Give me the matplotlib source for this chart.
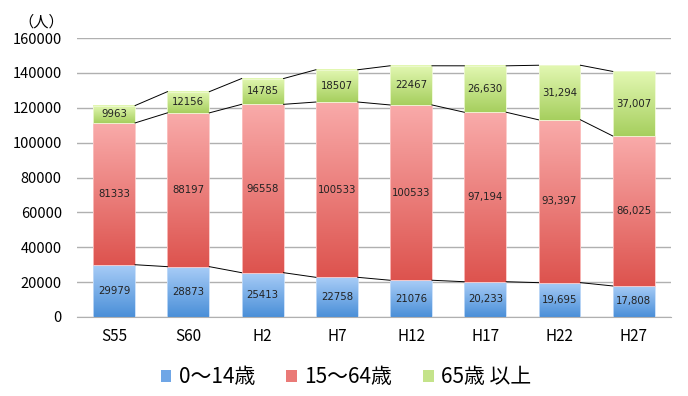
import matplotlib
matplotlib.use("Agg")
import matplotlib.pyplot as plt
import numpy as np
from matplotlib.colors import LinearSegmentedColormap
from matplotlib.patches import Patch, Rectangle

plt.rcParams['font.family'] = ['Noto Sans CJK JP', 'DejaVu Sans']

categories = ["S55", "S60", "H2", "H7", "H12", "H17", "H22", "H27"]
young = [29979, 28873, 25413, 22758, 21076, 20233, 19695, 17808]
working = [81333, 88197, 96558, 100533, 100533, 97194, 93397, 86025]
elderly = [9963, 12156, 14785, 18507, 22467, 26630, 31294, 37007]
young_labels = ["29979", "28873", "25413", "22758", "21076", "20,233", "19,695", "17,808"]
working_labels = ["81333", "88197", "96558", "100533", "100533", "97,194", "93,397", "86,025"]
elderly_labels = ["9963", "12156", "14785", "18507", "22467", "26,630", "31,294", "37,007"]
series_names = ["0〜14歳", "15〜64歳", "65歳 以上"]

fig = plt.figure(figsize=(6.88, 3.96), dpi=100)
ax = fig.add_axes([0.112, 0.1995, 0.863, 0.7045])

x = np.arange(len(categories))
width = 0.565
ax.set_xlim(-0.5, len(categories) - 0.5)
ax.set_ylim(0, 160000)

grads = [
    ("#4a8fd8", "#a9cdf7"),  # blue: bottom, top
    ("#dd534e", "#f9abaa"),  # red
    ("#a6cf5e", "#e3f8b3"),  # green
]
edge_cols = ["#c4dcf8", "#fbc4c3", "#eef9d2"]
mid_cols = ["#6fa6e6", "#ea7a77", "#c4e38a"]

series = [young, working, elderly]
labels = [young_labels, working_labels, elderly_labels]
bottoms = np.zeros(len(categories))
tops_all = []
for si, vals in enumerate(series):
    vals = np.array(vals, dtype=float)
    cmap = LinearSegmentedColormap.from_list("g%d" % si, list(grads[si]))
    grad = np.linspace(0, 1, 256).reshape(-1, 1)
    for i in range(len(categories)):
        b = bottoms[i]
        t = b + vals[i]
        ax.imshow(grad, cmap=cmap, origin="lower", aspect="auto",
                  extent=(x[i] - width / 2, x[i] + width / 2, b, t), zorder=2)
        ax.add_patch(Rectangle((x[i] - width / 2, b), width, vals[i], fill=False,
                               edgecolor=edge_cols[si], lw=0.6, zorder=2.5))
        ax.text(x[i], (b + t) / 2, labels[si][i], ha="center", va="center",
                fontsize=7.3, color="#222222", zorder=4, family="DejaVu Sans")
    bottoms = bottoms + vals
    tops_all.append(bottoms.copy())

# connecting lines
for tops in tops_all:
    for i in range(len(categories) - 1):
        ax.plot([x[i] + width / 2, x[i + 1] - width / 2], [tops[i], tops[i + 1]],
                color="black", lw=0.7, zorder=3)

ax.set_xlim(-0.5, len(categories) - 0.5)
ax.set_ylim(0, 160000)
ax.set_yticks(np.arange(0, 160001, 20000))
ax.set_yticklabels([str(v) for v in range(0, 160001, 20000)], fontsize=10.5)
ax.set_xticks(x)
ax.set_xticklabels(categories, fontsize=11)
ax.tick_params(length=0)
ax.tick_params(axis="y", pad=11)
ax.tick_params(axis="x", pad=8)
ax.yaxis.grid(True, color="#b0b0b0", lw=1)
ax.set_axisbelow(True)
for s in ["left", "right", "top"]:
    ax.spines[s].set_visible(False)
ax.spines["bottom"].set_color("#b0b0b0")

fig.text(0.06, 0.945, "（人）", fontsize=11, ha="center", va="center")

handles = [Patch(facecolor=c, edgecolor="none") for c in mid_cols]
fig.legend(handles, series_names, loc="center", bbox_to_anchor=(0.503, 0.048),
           ncol=3, frameon=False, fontsize=15, handlelength=0.5, handleheight=0.5,
           handletextpad=0.35, columnspacing=1.5)

fig.savefig("out.png", dpi=100)
